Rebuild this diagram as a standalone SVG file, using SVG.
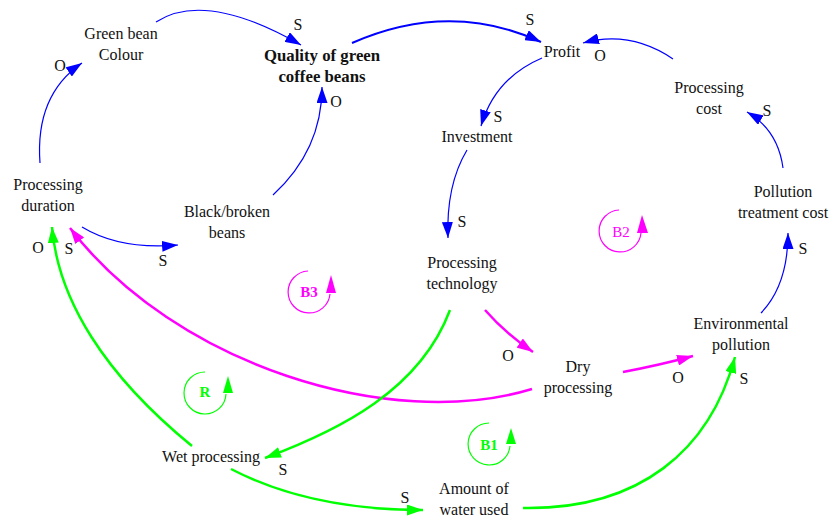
<svg xmlns="http://www.w3.org/2000/svg" width="833" height="521" viewBox="0 0 833 521">
<style>
text{font-family:"Liberation Serif","Times New Roman",serif;font-size:16px;fill:#111;text-anchor:middle}
.b{font-weight:bold}
.q{font-size:16.8px}
.lp{font-size:15px}
.blue{stroke:#0000FF;fill:none;stroke-width:1.2}
.blue2{stroke:#0000FF;fill:none;stroke-width:2}
.mag{stroke:#FF00FF;fill:none;stroke-width:2.5}
.grn{stroke:#00FF00;fill:none;stroke-width:2.5}
.mag1{stroke:#FF00FF;fill:none;stroke-width:1.2}
.grn1{stroke:#00FF00;fill:none;stroke-width:1.2}
</style>
<defs>
<marker id="ab" markerUnits="userSpaceOnUse" markerWidth="16" markerHeight="11" refX="16" refY="5.5" orient="auto"><path d="M0,0 L16,5.5 L0,11 z" fill="#0000FF"/></marker>
<marker id="am" markerUnits="userSpaceOnUse" markerWidth="16" markerHeight="11" refX="16" refY="5.5" orient="auto"><path d="M0,0 L16,5.5 L0,11 z" fill="#FF00FF"/></marker>
<marker id="ag" markerUnits="userSpaceOnUse" markerWidth="16" markerHeight="11" refX="16" refY="5.5" orient="auto"><path d="M0,0 L16,5.5 L0,11 z" fill="#00FF00"/></marker>
</defs>
<rect width="833" height="521" fill="#fff"/>
<g id="connectors">
<path class="blue" d="M156,22 Q205,-10 301,45" marker-end="url(#ab)"/>
<path class="blue" d="M40,163 Q35,95 82,63" marker-end="url(#ab)"/>
<path class="blue" d="M273,195 Q322,150 322,87" marker-end="url(#ab)"/>
<path class="blue" d="M82,227 Q120,250 178,245" marker-end="url(#ab)"/>
<path class="blue2" d="M352,43 Q450,0 541,42" marker-end="url(#ab)"/>
<path class="blue" d="M673,59 Q630,30 583,43" marker-end="url(#ab)"/>
<path class="blue" d="M542,58 Q495,78 481,126" marker-end="url(#ab)"/>
<path class="blue" d="M467,150 Q446,185 448,238" marker-end="url(#ab)"/>
<path class="blue" d="M783,168 Q778,130 747,112" marker-end="url(#ab)"/>
<path class="blue" d="M761,313 Q788,285 788,233" marker-end="url(#ab)"/>
<path class="mag" d="M485,310 Q505,333 533,352" marker-end="url(#am)"/>
<path class="mag" d="M623,372 Q660,365 693,356" marker-end="url(#am)"/>
<path class="mag" d="M532,389 C390,432 175,365 70,228" marker-end="url(#am)"/>
<path class="grn" d="M450,310 C420,390 340,430 265,458" marker-end="url(#ag)"/>
<path class="grn" d="M192,446 C105,375 58,300 52,227" marker-end="url(#ag)"/>
<path class="grn" d="M231,469 Q310,510 423,510" marker-end="url(#ag)"/>
<path class="grn" d="M523,508 C640,510 710,450 735,357" marker-end="url(#ag)"/>
</g>
<g id="polarities">
<text x="298" y="30">S</text>
<text x="60" y="71">O</text>
<text x="336" y="107">O</text>
<text x="163" y="266">S</text>
<text x="530" y="25">S</text>
<text x="600" y="61">O</text>
<text x="498" y="122">S</text>
<text x="462" y="227">S</text>
<text x="767" y="116">S</text>
<text x="803" y="254">S</text>
<text x="508" y="361">O</text>
<text x="678" y="383">O</text>
<text x="69" y="254">S</text>
<text x="38" y="253">O</text>
<text x="283" y="475">S</text>
<text x="405" y="503">S</text>
<text x="744" y="384">S</text>
</g>
<g id="green-bean-colour"><text x="121" y="39">Green bean</text><text x="121" y="60">Colour</text></g>
<g id="quality"><text class="b q" x="322" y="61">Quality of green</text><text class="b q" x="322" y="82">coffee beans</text></g>
<g id="profit"><text x="562" y="57">Profit</text></g>
<g id="investment"><text x="477" y="142">Investment</text></g>
<g id="processing-cost"><text x="709" y="93">Processing</text><text x="709" y="114">cost</text></g>
<g id="pollution-treatment-cost"><text x="783" y="197">Pollution</text><text x="783" y="218">treatment cost</text></g>
<g id="processing-duration"><text x="48" y="190">Processing</text><text x="48" y="211">duration</text></g>
<g id="black-broken-beans"><text x="227" y="217">Black/broken</text><text x="227" y="238">beans</text></g>
<g id="processing-technology"><text x="462" y="268">Processing</text><text x="462" y="289">technology</text></g>
<g id="environmental-pollution"><text x="741" y="329">Environmental</text><text x="741" y="350">pollution</text></g>
<g id="dry-processing"><text x="578" y="372">Dry</text><text x="578" y="393">processing</text></g>
<g id="wet-processing"><text x="211" y="462">Wet processing</text></g>
<g id="amount-of-water"><text x="474" y="494">Amount of</text><text x="474" y="515">water used</text></g>
<g id="loop-B3">
<path class="mag1" d="M308,271 A21,21 0 1 0 330,294"/>
<polygon points="331,275 326,293 336,293" fill="#FF00FF"/>
<text class="b lp" x="309" y="297" style="fill:#FF00FF">B3</text>
</g>
<g id="loop-B2">
<path class="mag1" d="M619,210 A21,21 0 1 0 641,233"/>
<polygon points="642,215 637,233 648,233" fill="#FF00FF"/>
<text class="lp" x="621" y="237" style="fill:#FF00FF">B2</text>
</g>
<g id="loop-R">
<path class="grn1" d="M205,372 A21,21 0 1 0 226,394"/>
<polygon points="228,376 223,393 233,393" fill="#00FF00"/>
<text class="b lp" x="205" y="397" style="fill:#00FF00">R</text>
</g>
<g id="loop-B1">
<path class="grn1" d="M489,423 A21,21 0 1 0 510,446"/>
<polygon points="511,428 506,444 516,444" fill="#00FF00"/>
<text class="b lp" x="489" y="450" style="fill:#00FF00">B1</text>
</g>
</svg>
